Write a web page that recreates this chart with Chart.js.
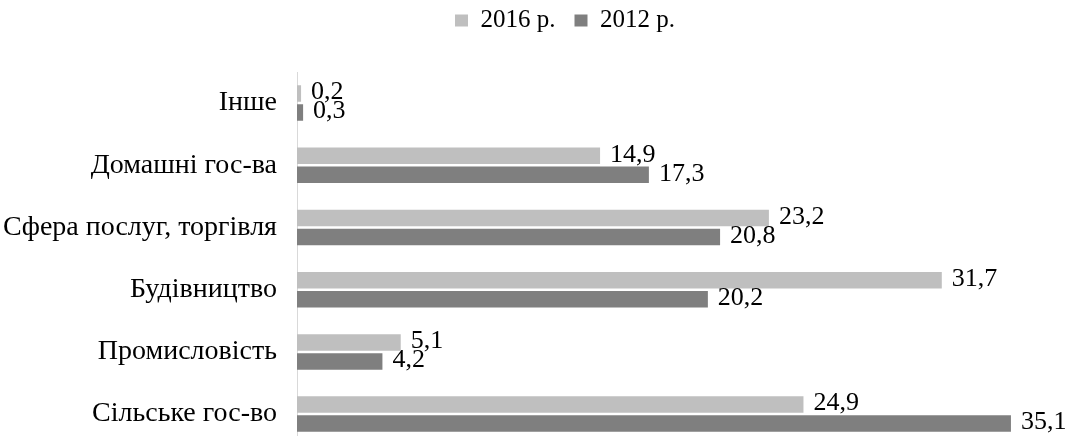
<!DOCTYPE html>
<html>
<head>
<meta charset="utf-8">
<script src="https://cdn.jsdelivr.net/npm/chart.js@4"></script>
<style>
  html, body { margin: 0; padding: 0; background: #fff; overflow: hidden; }
  #wrap { width: 1074px; height: 474px; position: relative; }
</style>
</head>
<body>
<div id="wrap"><canvas id="myChart"></canvas></div>
<script>
// Дані
var categories = ["Інше", "Домашні гос-ва", "Сфера послуг, торгівля", "Будівництво", "Промисловість", "Сільське гос-во"];
var values2016 = [0.2, 14.9, 23.2, 31.7, 5.1, 24.9];
var values2012 = [0.3, 17.3, 20.8, 20.2, 4.2, 35.1];
var seriesNames = ["2016 р.", "2012 р."];

var serif = "'Liberation Serif', 'Times New Roman', serif";

// Підписи значень біля кінця стовпчика
var valueLabels = {
  id: 'valueLabels',
  afterDatasetsDraw: function (chart) {
    var ctx = chart.ctx;
    ctx.save();
    ctx.font = "26px " + serif;
    ctx.fillStyle = "#000";
    ctx.textBaseline = "middle";
    ctx.textAlign = "left";
    chart.data.datasets.forEach(function (ds, i) {
      var meta = chart.getDatasetMeta(i);
      meta.data.forEach(function (bar, j) {
        var txt = String(ds.data[j]).replace('.', ',');
        ctx.fillText(txt, bar.x + 10, bar.y - 1);
      });
    });
    ctx.restore();
  }
};

// Фіксована висота легенди
var legendGap = {
  id: 'legendGap',
  beforeInit: function (chart) {
    var fit = chart.legend.fit;
    chart.legend.fit = function () {
      fit.bind(chart.legend)();
      this.height = 83;
    };
  }
};

var ctx = document.getElementById('myChart').getContext('2d');
var chart = new Chart(ctx, {
  type: 'bar',
  data: {
    labels: categories,
    datasets: [{
      label: seriesNames[0],
      data: values2016,
      backgroundColor: '#bfbfbf',
      categoryPercentage: 0.61,
      barPercentage: 0.87
    }, {
      label: seriesNames[1],
      data: values2012,
      backgroundColor: '#7f7f7f',
      categoryPercentage: 0.61,
      barPercentage: 0.87
    }]
  },
  options: {
    indexAxis: 'y',
    responsive: true,
    maintainAspectRatio: false,
    animation: false,
    // від'ємний правий відступ зсуває легенду правіше центру
    layout: { padding: { top: -11, right: -56, left: 0, bottom: 0 } },
    plugins: {
      legend: {
        position: 'top',
        labels: {
          boxWidth: 13,
          boxHeight: 12,
          color: '#000',
          font: { family: serif, size: 25 },
          padding: 19
        }
      },
      tooltip: { enabled: false }
    },
    scales: {
      x: {
        display: false,
        min: 0,
        max: 38.2
      },
      y: {
        grid: { display: false },
        border: { display: true, color: '#d9d9d9' },
        ticks: {
          color: '#000',
          font: { family: serif, size: 28 },
          padding: 12
        },
        afterFit: function (scale) { scale.width = 297; }
      }
    }
  },
  plugins: [valueLabels, legendGap]
});
</script>
</body>
</html>
